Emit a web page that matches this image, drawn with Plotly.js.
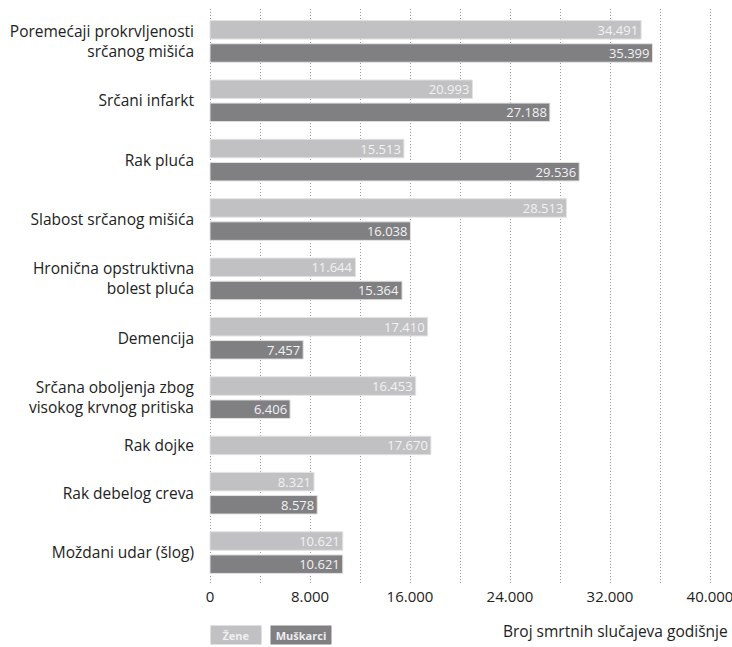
<!DOCTYPE html>
<html>
<head>
<meta charset="utf-8">
<script src="https://cdn.plot.ly/plotly-3.0.1.min.js"></script>
<style>html,body{margin:0;padding:0;background:#fff;} #chart{width:732px;height:647px;}</style>
</head>
<body>
<div id="chart"></div>
<script>
// ---- data ----
const categories = [
  "Poremećaji prokrvljenosti<br>srčanog mišića",
  "Srčani infarkt",
  "Rak pluća",
  "Slabost srčanog mišića",
  "Hronična opstruktivna<br>bolest pluća",
  "Demencija",
  "Srčana oboljenja zbog<br>visokog krvnog pritiska",
  "Rak dojke",
  "Rak debelog creva",
  "Moždani udar (šlog)"
];
const zene     = [34491, 20993, 15513, 28513, 11644, 17410, 16453, 17670, 8321, 10621];
const muskarci = [35399, 27188, 29536, 16038, 15364, 7457, 6406, null, 8578, 10621];
const seriesNames = ["Žene", "Muškarci"];
const xTicks = [0, 8000, 16000, 24000, 32000, 40000];
const xMinorTicks = [4000, 12000, 20000, 28000, 36000];

// ---- layout of bar slots (derived from data: groups skip missing bars) ----
const GROUP_GAP = 0.565;
const BAR_W = 0.8;
const yZ = [], yM = [], centers = [];
let pos = 0;
for (let i = 0; i < categories.length; i++) {
  const ps = [];
  if (zene[i] != null) { yZ.push(pos); ps.push(pos); pos += 1; } else yZ.push(null);
  if (muskarci[i] != null) { yM.push(pos); ps.push(pos); pos += 1; } else yM.push(null);
  centers.push(ps.reduce((a, b) => a + b, 0) / ps.length);
  pos += GROUP_GAP;
}
const lastPos = pos - 1 - GROUP_GAP;
const pad = 0.5;

const colors = ["#c1c1c3", "#808083"];
const fontFam = "'Open Sans', 'Noto Sans', sans-serif";
const gridCol = "#9a9a9a";

function barTrace(vals, ys, name, color) {
  return {
    type: "bar", orientation: "h", name: name,
    x: vals, y: ys, width: BAR_W,
    marker: {color: color, line: {color: "#e2e2e2", width: 1}},
    texttemplate: "%{x:,}", textposition: "inside", insidetextanchor: "end",
    textfont: {color: "#f2f2f2", size: 13, family: fontFam},
    constraintext: "none", cliponaxis: false, hoverinfo: "x+name"
  };
}

const data = [
  barTrace(zene, yZ, seriesNames[0], colors[0]),
  barTrace(muskarci, yM, seriesNames[1], colors[1])
];

const layout = {
  width: 732, height: 647,
  margin: {l: 208, r: 20, t: 9, b: 62},
  paper_bgcolor: "#fff", plot_bgcolor: "#fff",
  separators: ",.",
  showlegend: false,
  barmode: "overlay",
  font: {family: fontFam, color: "#222"},
  xaxis: {
    range: [-160, 40160], tickvals: xTicks, tickformat: ",",
    showgrid: true, gridcolor: gridCol, griddash: "1px,2px", gridwidth: 1,
    zeroline: false, showline: false, ticks: "",
    tickfont: {size: 15, color: "#222", family: fontFam},
    ticklabelstandoff: 1, ticklabeloverflow: "allow",
    minor: {showgrid: true, tickvals: xMinorTicks, gridcolor: gridCol, griddash: "1px,2px", gridwidth: 1}
  },
  yaxis: {
    range: [lastPos + BAR_W / 2 + pad, -BAR_W / 2 - pad],
    tickvals: centers, ticktext: categories,
    showgrid: false, zeroline: false, showline: false, ticks: "",
    tickfont: {size: 15.5, color: "#222", family: fontFam},
    ticklabelstandoff: 13
  },
  annotations: [
    {xref: "paper", yref: "paper", x: 0.004, y: -0.07, xanchor: "left", yanchor: "top",
     text: "<b>" + seriesNames[0] + "</b>", showarrow: false, bgcolor: colors[0],
     font: {size: 11, color: "#eeeeee", family: fontFam}, width: 48, height: 16, borderpad: 1},
    {xref: "paper", yref: "paper", x: 0.123, y: -0.07, xanchor: "left", yanchor: "top",
     text: "<b>" + seriesNames[1] + "</b>", showarrow: false, bgcolor: colors[1],
     font: {size: 11, color: "#eeeeee", family: fontFam}, width: 58, height: 16, borderpad: 1},
    {xref: "paper", yref: "paper", x: 1.036, y: -0.057, xanchor: "right", yanchor: "top",
     text: "Broj smrtnih slučajeva godišnje", showarrow: false,
     font: {size: 15.5, color: "#222", family: fontFam}}
  ]
};

Plotly.newPlot("chart", data, layout, {displayModeBar: false, staticPlot: true});
</script>
</body>
</html>
